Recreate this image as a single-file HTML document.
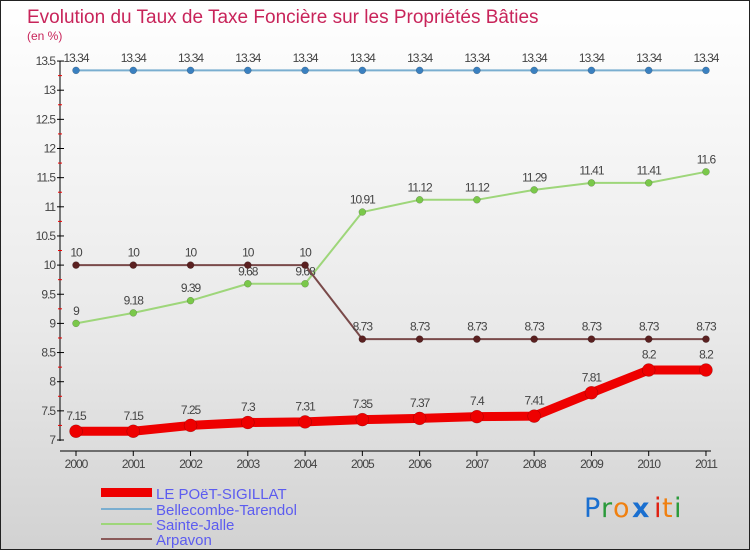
<!DOCTYPE html>
<html><head><meta charset="utf-8"><style>
body{margin:0}
#c{position:relative;width:748px;height:548px;border:1px solid #222;background:linear-gradient(#fff,#e9e9e9 60%,#d2d2d2);overflow:hidden;font-family:"Liberation Sans",sans-serif}
</style></head><body>
<div id="c">
<svg id="s" width="748" height="548" style="position:absolute;left:0;top:0">
<text x="26" y="22" font-size="19" fill="#c8245a">Evolution du Taux de Taxe Foncière sur les Propriétés Bâties</text>
<text x="26" y="39" font-size="12" fill="#c8245a">(en %)</text>
<g id="axes"></g><g id="series"></g>
<g>
<rect x="100" y="487" width="51" height="9" fill="#e00"/>
<text x="155" y="498" font-size="15" fill="#5c5cf0">LE POëT-SIGILLAT</text>
<rect x="100" y="507" width="51" height="2" fill="#7aaed0"/>
<text x="155" y="514" font-size="15" fill="#5c5cf0">Bellecombe-Tarendol</text>
<rect x="100" y="522" width="51" height="2" fill="#9ed67a"/>
<text x="155" y="529" font-size="15" fill="#5c5cf0">Sainte-Jalle</text>
<rect x="100" y="537" width="51" height="2" fill="#8a5a5a"/>
<text x="155" y="544" font-size="15" fill="#5c5cf0">Arpavon</text>
</g>
<g font-size="27" font-family="DejaVu Sans,sans-serif">
<text x="583" y="516" fill="#1a6fd0">P</text><text x="600" y="516" fill="#2a9a3a">r</text><text x="612" y="516" fill="#f08010">o</text><text x="631" y="516" fill="#1a6fd0" font-weight="bold">x</text><text x="653" y="516" fill="#e02010">i</text><text x="661" y="516" fill="#f08010">t</text><text x="673" y="516" fill="#2a9a3a">i</text>
</g>
</svg>
</div>
<script>
const years=[2000,2001,2002,2003,2004,2005,2006,2007,2008,2009,2010,2011];
const yTicks=[7,7.5,8,8.5,9,9.5,10,10.5,11,11.5,12,12.5,13,13.5];
const bellecombe=[13.34,13.34,13.34,13.34,13.34,13.34,13.34,13.34,13.34,13.34,13.34,13.34];
const sainteJalle=[9,9.18,9.39,9.68,9.68,10.91,11.12,11.12,11.29,11.41,11.41,11.6];
const arpavon=[10,10,10,10,10,8.73,8.73,8.73,8.73,8.73,8.73,8.73];
const lePoet=[7.15,7.15,7.25,7.3,7.31,7.35,7.37,7.4,7.41,7.81,8.2,8.2];
const NS="http://www.w3.org/2000/svg";
function X(i){return 75+i*57.27;}
function Y(v){return 439-(v-7)*58.3;}
function mk(t,a,p){const e=document.createElementNS(NS,t);for(const k in a)e.setAttribute(k,a[k]);p.appendChild(e);return e;}
const ax=document.getElementById('axes');
const yl=mk('line',{x1:59,y1:60,x2:59,y2:440,stroke:'#000'},ax);


const xl=mk('line',{x1:59,y1:450,x2:710,y2:450,stroke:'#000'},ax);


yTicks.forEach((v,k)=>{
 mk('line',{x1:56,y1:Y(v),x2:63,y2:Y(v),stroke:'#000'},ax);
 if(k<yTicks.length-1) mk('line',{x1:57,y1:Y(v+0.25),x2:61,y2:Y(v+0.25),stroke:'#e00'},ax);
 const t=mk('text',{x:54,y:Y(v)+4,'font-size':12,'text-anchor':'end',fill:'#444','letter-spacing':'-1'},ax);
 t.textContent=v;
 
 
});
years.forEach((y,i)=>{
 mk('line',{x1:X(i),y1:450,x2:X(i),y2:455,stroke:'#000'},ax);
 const t=mk('text',{x:X(i),y:467,'font-size':12,'text-anchor':'middle',fill:'#444','letter-spacing':'-1'},ax);
 t.textContent=y;
 
 
});
const sg=document.getElementById('series');
function series(name,data,color,w,r,dot,lab){
 const g=mk('g',{},sg);
 
 
 mk('polyline',{points:data.map((v,i)=>X(i)+','+Y(v)).join(' '),fill:'none',stroke:color,'stroke-width':w,'stroke-linejoin':'round'},g);
 data.forEach((v,i)=>{
  const c=mk('circle',{cx:X(i),cy:Y(v),r:r,fill:dot,stroke:'rgba(0,0,0,0.3)','stroke-width':0.5},g);
  
  
  const t=mk('text',{x:X(i),y:Y(v)-(r+5),'font-size':12,'text-anchor':'middle',fill:'#444','letter-spacing':'-1'},g);
  t.textContent=lab[i];
  
  
 });
}
series('series-bellecombe',bellecombe,'#7aaed0',2,3.5,'#3a80c0',bellecombe);
series('series-sainte-jalle',sainteJalle,'#9ed67a',2,3.5,'#7ac84a',sainteJalle);
series('series-arpavon',arpavon,'#7a4a4a',2,3.5,'#5a2020',arpavon);
series('series-le-poet',lePoet,'#e00',9,6.5,'#e00',lePoet);
</script>
</body></html>
